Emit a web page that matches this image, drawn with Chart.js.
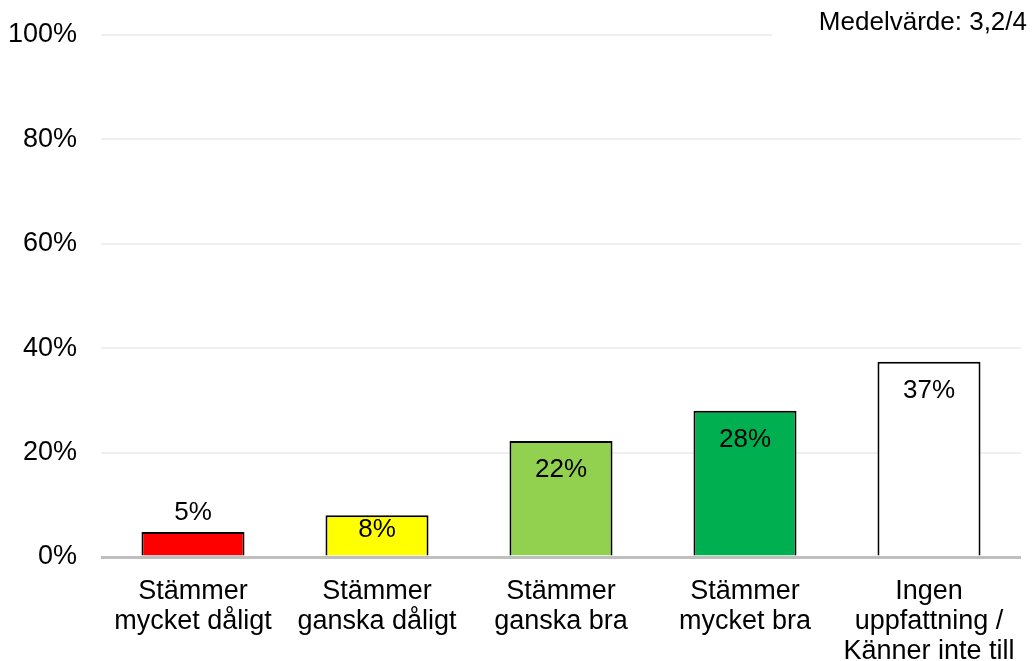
<!DOCTYPE html>
<html>
<head>
<meta charset="utf-8">
<script src="https://cdn.jsdelivr.net/npm/chart.js@4"></script>
<style>
  body { margin: 0; background: #fff; }
  #wrap { width: 1033px; height: 661px; }
</style>
</head>
<body>
<div id="wrap"><canvas id="myChart" width="1033" height="661"></canvas></div>
<script>
const categories = [
  ["Stämmer", "mycket dåligt"],
  ["Stämmer", "ganska dåligt"],
  ["Stämmer", "ganska bra"],
  ["Stämmer", "mycket bra"],
  ["Ingen", "uppfattning /", "Känner inte till"],
];
const values = [4.8, 8.0, 22.2, 28.0, 37.4];
const valueLabels = ["5%", "8%", "22%", "28%", "37%"];
const barColors = ["#ff0000", "#ffff00", "#92d050", "#00b050", "#ffffff"];
const yTicks = [0, 20, 40, 60, 80, 100];
const meanText = "Medelvärde: 3,2/4";

const FONT = "'Liberation Sans', Arial, sans-serif";

// labels on the bars
const barLabels = {
  id: "barLabels",
  afterDatasetsDraw(chart) {
    const ctx = chart.ctx;
    const meta = chart.getDatasetMeta(0);
    ctx.save();
    ctx.font = "26px " + FONT;
    ctx.fillStyle = "#000";
    ctx.textAlign = "center";
    ctx.textBaseline = "middle";
    meta.data.forEach((bar, i) => {
      const h = bar.base - bar.y;
      let y;
      if (h > 60) y = bar.y + 29;
      else if (h > 30) y = bar.y + 15;
      else y = bar.y - 19;
      ctx.fillText(valueLabels[i], bar.x, y);
    });
    ctx.restore();
  },
};

// mean value box, top right
const meanBox = {
  id: "meanBox",
  afterDraw(chart) {
    const ctx = chart.ctx;
    ctx.save();
    ctx.fillStyle = "#fff";
    ctx.fillRect(772, 0, chart.width - 772, 50);
    ctx.font = "26px " + FONT;
    ctx.fillStyle = "#000";
    ctx.textAlign = "right";
    ctx.textBaseline = "middle";
    ctx.fillText(meanText, 1027, 23);
    ctx.restore();
  },
};

new Chart(document.getElementById("myChart"), {
  type: "bar",
  data: {
    labels: categories,
    datasets: [
      {
        data: values,
        backgroundColor: barColors,
        borderColor: "#000",
        borderWidth: 2,
        categoryPercentage: 1,
        barPercentage: 0.56,
      },
    ],
  },
  options: {
    responsive: false,
    animation: false,
    layout: { padding: { left: 0, right: 12, top: 30, bottom: 0 } },
    plugins: {
      legend: { display: false },
      tooltip: { enabled: false },
    },
    scales: {
      x: {
        afterFit: (axis) => {
          axis.height = 104;
          axis.paddingLeft = 0;
          axis.paddingRight = 0;
        },
        grid: { display: false, drawTicks: false },
        border: { display: false },
        ticks: {
          color: "#000",
          font: { family: FONT, size: 27, lineHeight: 1.12 },
          padding: 19,
          maxRotation: 0,
          autoSkip: false,
        },
      },
      y: {
        min: 0,
        max: 100,
        afterFit: (axis) => {
          axis.width = 101;
        },
        afterBuildTicks: (axis) => {
          axis.ticks = yTicks.map((v) => ({ value: v }));
        },
        border: { display: false },
        grid: {
          drawTicks: false,
          color: (c) => (c.tick && c.tick.value === 0 ? "#bfbfbf" : "#efefef"),
          lineWidth: (c) => (c.tick && c.tick.value === 0 ? 3 : 2),
        },
        ticks: {
          color: "#000",
          font: { family: FONT, size: 27, lineHeight: 0.8 },
          padding: 24,
          callback: (v) => v + "%",
        },
      },
    },
  },
  plugins: [barLabels, meanBox],
});
</script>
</body>
</html>
